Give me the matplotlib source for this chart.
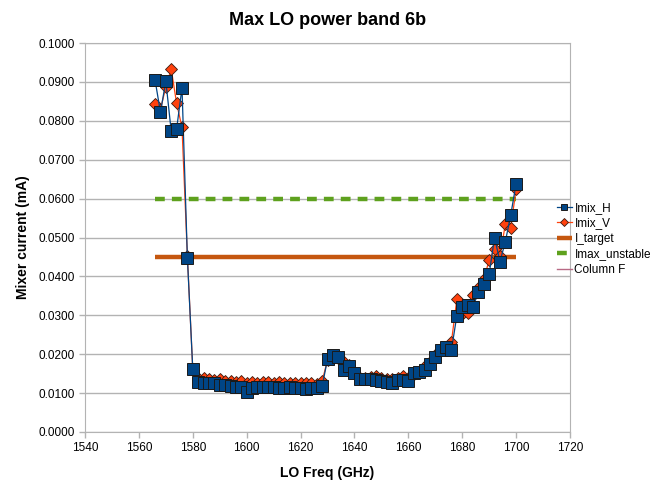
import matplotlib.pyplot as plt
from matplotlib.ticker import FormatStrFormatter, MultipleLocator

plt.rcParams['font.family'] = ['Liberation Sans', 'DejaVu Sans']

# LO frequency (GHz)
freq = [1566, 1568, 1570, 1572, 1574, 1576, 1578, 1580, 1582, 1584,
        1586, 1588, 1590, 1592, 1594, 1596, 1598, 1600, 1602, 1604,
        1606, 1608, 1610, 1612, 1614, 1616, 1618, 1620, 1622, 1624,
        1626, 1628, 1630, 1632, 1634, 1636, 1638, 1640, 1642, 1644,
        1646, 1648, 1650, 1652, 1654, 1656, 1658, 1660, 1662, 1664,
        1666, 1668, 1670, 1672, 1674, 1676, 1678, 1680, 1682, 1684,
        1686, 1688, 1690, 1692, 1694, 1696, 1698, 1700]

# mixer current (mA)
imix_h = [0.0905, 0.0822, 0.0902, 0.0773, 0.0779, 0.0885, 0.0448, 0.0161, 0.0129, 0.0125,
          0.0125, 0.0127, 0.0122, 0.0120, 0.0118, 0.0116, 0.0115, 0.0103, 0.0114, 0.0116,
          0.0115, 0.0116, 0.0115, 0.0114, 0.0114, 0.0115, 0.0113, 0.0114, 0.0111, 0.0113,
          0.0114, 0.0117, 0.0187, 0.0198, 0.0192, 0.0160, 0.0170, 0.0151, 0.0135, 0.0135,
          0.0137, 0.0134, 0.0130, 0.0129, 0.0127, 0.0134, 0.0134, 0.0131, 0.0151, 0.0155,
          0.0160, 0.0175, 0.0194, 0.0210, 0.0219, 0.0211, 0.0299, 0.0322, 0.0326, 0.0322,
          0.0360, 0.0380, 0.0406, 0.0500, 0.0438, 0.0489, 0.0558, 0.0638]

imix_v = [0.0843, 0.0828, 0.0888, 0.0933, 0.0845, 0.0783, 0.0452, 0.0160, 0.0138, 0.0140,
          0.0135, 0.0133, 0.0137, 0.0132, 0.0130, 0.0129, 0.0130, 0.0126, 0.0128, 0.0127,
          0.0129, 0.0128, 0.0126, 0.0129, 0.0127, 0.0126, 0.0127, 0.0125, 0.0126, 0.0125,
          0.0124, 0.0130, 0.0185, 0.0195, 0.0190, 0.0181, 0.0172, 0.0155, 0.0140, 0.0138,
          0.0142, 0.0143, 0.0140, 0.0136, 0.0135, 0.0140, 0.0145, 0.0140, 0.0148, 0.0155,
          0.0170, 0.0180, 0.0198, 0.0212, 0.0215, 0.0232, 0.0341, 0.0303, 0.0307, 0.0352,
          0.0369, 0.0393, 0.0442, 0.0470, 0.0452, 0.0534, 0.0525, 0.0625]

limit_freq = [1566, 1700]
i_target = [0.045, 0.045]
imax_unstable = [0.060, 0.060]

fig = plt.figure(figsize=(6.65, 4.83), dpi=100)
ax = fig.add_axes([85 / 665, 51 / 483, 485 / 665, 389 / 483])

ax.plot(limit_freq, i_target, color='#c5570f', lw=3.2, solid_capstyle='butt',
        label='I_target', zorder=2)
ax.plot(limit_freq, imax_unstable, color='#5ea11e', lw=3.2, ls=(0, (2.2, 1.6)),
        label='Imax_unstable', zorder=2)
ax.plot(freq, imix_v, color='#ff420e', lw=0.9, marker='D', ms=6.5,
        mfc='#ff420e', mec='#3a1a10', mew=0.6, label='Imix_V', zorder=3)
ax.plot(freq, imix_h, color='#004586', lw=0.9, marker='s', ms=8,
        mfc='#004586', mec='#1a1a1a', mew=0.7, label='Imix_H', zorder=4)
ax.plot([], [], color='#b86a85', lw=1, label='Column F')

ax.set_xlim(1540, 1720)
ax.set_ylim(0, 0.1)
ax.xaxis.set_major_locator(MultipleLocator(20))
ax.yaxis.set_major_locator(MultipleLocator(0.01))
ax.yaxis.set_major_formatter(FormatStrFormatter('%.4f'))
ax.grid(axis='y', color='#b3b3b3', lw=1)
ax.set_axisbelow(True)
for s in ax.spines.values():
    s.set_color('#b3b3b3')
ax.tick_params(colors='#b3b3b3', labelcolor='black', labelsize=8.5, length=4, width=1)

ax.set_title('Max LO power band 6b', fontsize=13, fontweight='bold', pad=13)
ax.set_xlabel('LO Freq (GHz)', fontsize=10, fontweight='bold', labelpad=8)
ax.set_ylabel('Mixer current (mA)', fontsize=10, fontweight='bold', labelpad=6)

h, l = ax.get_legend_handles_labels()
order = [l.index(n) for n in ['Imix_H', 'Imix_V', 'I_target', 'Imax_unstable', 'Column F']]
fig.legend([h[i] for i in order], [l[i] for i in order],
           loc='upper left', bbox_to_anchor=(552 / 665, 1 - 197 / 483),
           frameon=False, fontsize=8.5, handlelength=1.3, handletextpad=0.2,
           labelspacing=0.3, markerscale=0.6, borderaxespad=0)

fig.savefig('out.png', dpi=100)
